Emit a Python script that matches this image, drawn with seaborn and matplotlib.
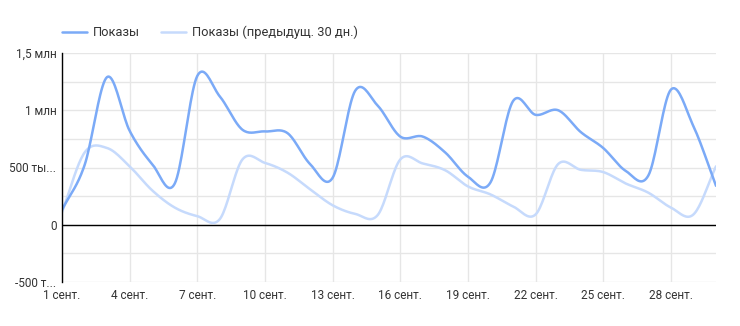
import numpy as np
import pandas as pd
import matplotlib
matplotlib.use("Agg")
import matplotlib.pyplot as plt
import seaborn as sns
from matplotlib.lines import Line2D

days = list(range(1, 31))
shows = [130e3, 520e3, 1290e3, 820e3, 530e3, 360e3, 1300e3, 1120e3, 830e3, 815e3,
         800e3, 530e3, 410e3, 1170e3, 1040e3, 770e3, 770e3, 630e3, 420e3, 370e3,
         1080e3, 960e3, 1000e3, 810e3, 670e3, 470e3, 430e3, 1180e3, 860e3, 340e3]
shows_prev = [110e3, 630e3, 670e3, 510e3, 300e3, 150e3, 75e3, 50e3, 570e3, 540e3,
              455e3, 310e3, 170e3, 95e3, 85e3, 570e3, 535e3, 475e3, 335e3, 265e3,
              160e3, 90e3, 530e3, 480e3, 460e3, 360e3, 280e3, 150e3, 90e3, 510e3]
series_names = ["Показы", "Показы (предыдущ. 30 дн.)"]
x_ticks = [1, 4, 7, 10, 13, 16, 19, 22, 25, 28]
x_labels = [f"{d} сент." for d in x_ticks]
y_ticks = [-500e3, 0, 500e3, 1000e3, 1500e3]
y_labels = ["-500 т...", "0", "500 ты...", "1 млн", "1,5 млн"]
colors = ["#7baaf7", "#c6dafc"]


def smooth(x, y, n=20):
    # Catmull-Rom rendering of the curve through the data points
    x = np.asarray(x, float); y = np.asarray(y, float)
    xp = np.concatenate([[2 * x[0] - x[1]], x, [2 * x[-1] - x[-2]]])
    yp = np.concatenate([[2 * y[0] - y[1]], y, [2 * y[-1] - y[-2]]])
    xs, ys = [], []
    t = np.linspace(0, 1, n, endpoint=False)
    for i in range(1, len(xp) - 2):
        p0, p1, p2, p3 = yp[i - 1], yp[i], yp[i + 1], yp[i + 2]
        ys.append(0.5 * ((2 * p1) + (-p0 + p2) * t + (2 * p0 - 5 * p1 + 4 * p2 - p3) * t ** 2
                         + (-p0 + 3 * p1 - 3 * p2 + p3) * t ** 3))
        xs.append(xp[i] + (xp[i + 1] - xp[i]) * t)
    xs.append([x[-1]]); ys.append([y[-1]])
    return np.concatenate(xs), np.concatenate(ys)


frames = []
for name, vals in zip(series_names, [shows, shows_prev]):
    sx, sy = smooth(days, vals)
    frames.append(pd.DataFrame({"day": sx, "value": sy, "series": name}))
df = pd.concat(frames[::-1], ignore_index=True)

sns.set_theme(style="white")
plt.rcParams["font.family"] = ["Roboto", "DejaVu Sans"]

fig = plt.figure(figsize=(7.4, 3.26), dpi=100)
ax = fig.add_axes([62 / 740, 44 / 326, (716 - 62) / 740, (282 - 53) / 326])

sns.lineplot(data=df, x="day", y="value", hue="series",
             hue_order=series_names[::-1], palette=colors[::-1],
             linewidth=1.8, ax=ax, legend=False, sort=False, estimator=None)

ax.set_xlim(1, 30)
ax.set_ylim(-500e3, 1500e3)
ax.set_xticks(x_ticks)
ax.set_xticklabels(x_labels)
ax.set_yticks(y_ticks)
ax.set_yticklabels(y_labels)
ax.set_yticks(np.arange(-500e3, 1500e3 + 1, 250e3), minor=True)
ax.grid(True, which="major", axis="x", color="#e6e6e6", linewidth=1)
ax.grid(True, which="both", axis="y", color="#e6e6e6", linewidth=1)
ax.axhline(0, color="black", linewidth=1, zorder=1.5)
ax.set_xlabel("")
ax.set_ylabel("")
for s in ["top", "right", "bottom"]:
    ax.spines[s].set_visible(False)
ax.spines["left"].set_color("black")
ax.spines["left"].set_linewidth(1)
ax.tick_params(axis="both", which="both", length=0, labelsize=8.5, labelcolor="#333333")
ax.tick_params(axis="y", pad=4)
ax.tick_params(axis="x", pad=5)
ax.set_axisbelow(True)

handles = [Line2D([], [], color=c, linewidth=1.8) for c in colors]
fig.legend(handles, series_names, loc="upper left", bbox_to_anchor=(50 / 740, 1 - 14 / 326),
           ncol=2, frameon=False, fontsize=9.3, handlelength=1.95, handletextpad=0.47,
           columnspacing=1.6, labelcolor="#333333")

fig.savefig("out.png", dpi=100)
